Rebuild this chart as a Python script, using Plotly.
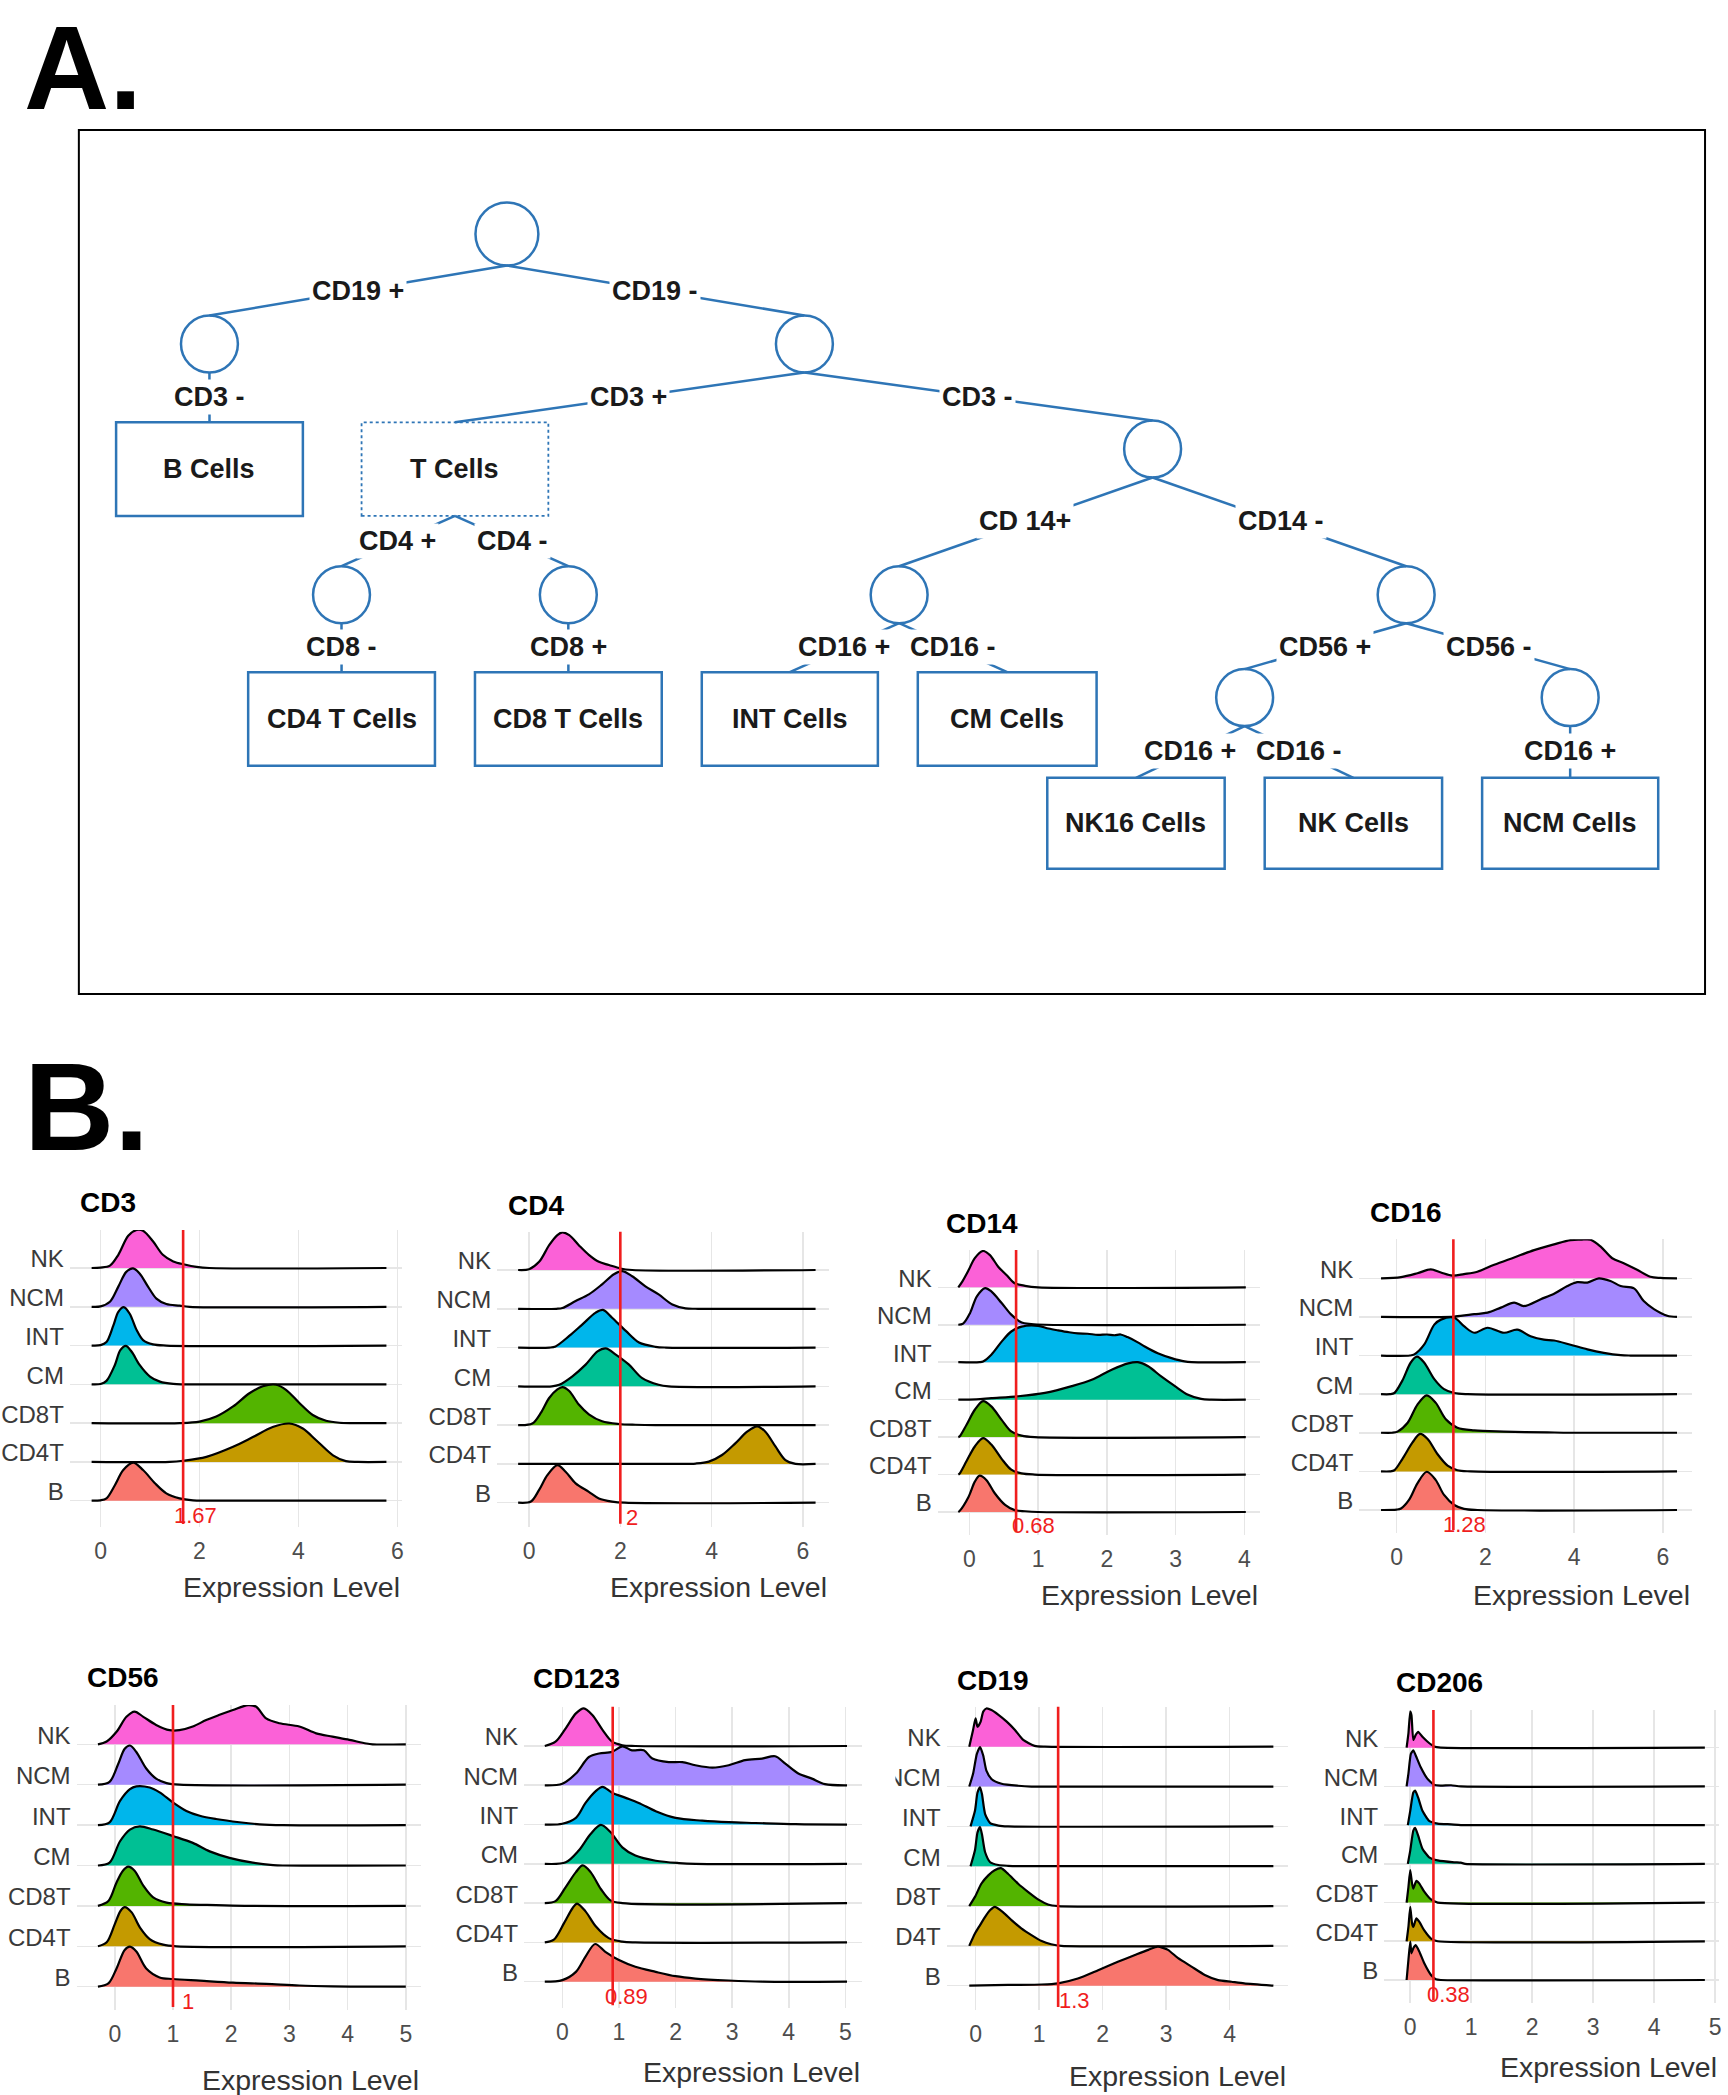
import plotly.graph_objects as go

W, H = 1728, 2095

# ======================= DATA =======================
# ---- Part A: gating tree ----
TREE_NODES = ["root", "cd19p", "cd19m", "cd3m", "cd4p", "cd4m", "cd14p", "cd14m", "cd56p", "cd56m"]
TREE_CELLS = ["B Cells", "T Cells", "CD4 T Cells", "CD8 T Cells", "INT Cells", "CM Cells",
              "NK16 Cells", "NK Cells", "NCM Cells"]
TREE_EDGES = [
    ("root", "cd19p", "CD19 +"), ("root", "cd19m", "CD19 -"),
    ("cd19p", "B Cells", "CD3 -"), ("cd19m", "T Cells", "CD3 +"), ("cd19m", "cd3m", "CD3 -"),
    ("T Cells", "cd4p", "CD4 +"), ("T Cells", "cd4m", "CD4 -"),
    ("cd4p", "CD4 T Cells", "CD8 -"), ("cd4m", "CD8 T Cells", "CD8 +"),
    ("cd3m", "cd14p", "CD 14+"), ("cd3m", "cd14m", "CD14 -"),
    ("cd14p", "INT Cells", "CD16 +"), ("cd14p", "CM Cells", "CD16 -"),
    ("cd14m", "cd56p", "CD56 +"), ("cd14m", "cd56m", "CD56 -"),
    ("cd56p", "NK16 Cells", "CD16 +"), ("cd56p", "NK Cells", "CD16 -"),
    ("cd56m", "NCM Cells", "CD16 +"),
]
DASHED_CELLS = ["T Cells"]

# ---- Part B: ridgelines ----
GROUPS = ["NK", "NCM", "INT", "CM", "CD8T", "CD4T", "B"]
GROUP_COLORS = ["#FB61D7", "#A58AFF", "#00B6EB", "#00C094", "#53B400", "#C49A00", "#F8766D"]
MARKERS = ["CD3", "CD4", "CD14", "CD16", "CD56", "CD123", "CD19", "CD206"]
THRESHOLDS = [1.67, 2, 0.68, 1.28, 1, 0.89, 1.3, 0.38]
THRESHOLD_TEXT = ["1.67", "2", "0.68", "1.28", "1", "0.89", "1.3", "0.38"]
X_TICKS = [[0, 2, 4, 6], [0, 2, 4, 6], [0, 1, 2, 3, 4], [0, 2, 4, 6],
           [0, 1, 2, 3, 4, 5], [0, 1, 2, 3, 4, 5], [0, 1, 2, 3, 4], [0, 1, 2, 3, 4, 5]]
X_TITLE = "Expression Level"

# (expression level, ridge height relative to row spacing)
CD3_RIDGES = {
    "NK": [(-0.18, 0), (0.0, 0.01), (0.19, 0.06), (0.36, 0.34), (0.56, 0.83), (0.73, 0.98), (0.86, 0.96), (1.06, 0.69), (1.26, 0.34), (1.47, 0.17), (1.7, 0.09), (1.94, 0.03), (2.2, 0), (5.78, 0)],
    "NCM": [(-0.18, 0), (0.0, 0.01), (0.19, 0.13), (0.36, 0.52), (0.52, 0.9), (0.66, 0.99), (0.79, 0.86), (0.96, 0.52), (1.13, 0.21), (1.33, 0.07), (1.6, 0.03), (1.8, 0), (5.78, 0)],
    "INT": [(-0.18, 0), (0.0, 0.01), (0.12, 0.09), (0.26, 0.52), (0.36, 0.87), (0.47, 0.99), (0.59, 0.82), (0.73, 0.4), (0.86, 0.14), (1.06, 0.03), (1.33, 0), (5.78, 0)],
    "CM": [(-0.18, 0), (0.0, 0.01), (0.12, 0.09), (0.29, 0.5), (0.4, 0.88), (0.51, 0.99), (0.63, 0.84), (0.79, 0.5), (1.0, 0.2), (1.2, 0.07), (1.47, 0.01), (1.7, 0), (5.78, 0)],
    "CD8T": [(-0.18, 0), (1.6, 0), (2.0, 0.04), (2.34, 0.17), (2.68, 0.43), (3.01, 0.77), (3.28, 0.95), (3.55, 0.99), (3.75, 0.86), (4.02, 0.52), (4.29, 0.21), (4.56, 0.06), (4.83, 0.01), (5.1, 0), (5.78, 0)],
    "CD4T": [(-0.18, 0), (1.4, 0), (1.67, 0.03), (2.14, 0.13), (2.68, 0.39), (3.08, 0.64), (3.48, 0.9), (3.82, 0.99), (4.09, 0.86), (4.36, 0.56), (4.7, 0.17), (4.96, 0.02), (5.2, 0), (5.78, 0)],
    "B": [(-0.18, 0), (0.0, 0.01), (0.12, 0.06), (0.29, 0.4), (0.46, 0.79), (0.66, 0.98), (0.86, 0.79), (1.1, 0.45), (1.33, 0.19), (1.6, 0.06), (1.87, 0.01), (2.1, 0), (5.78, 0)],
}
CD4_RIDGES = {
    "NK": [(-0.24, 0), (0.0, 0.02), (0.22, 0.21), (0.44, 0.64), (0.62, 0.9), (0.73, 0.97), (0.88, 0.9), (1.09, 0.64), (1.31, 0.39), (1.53, 0.21), (1.75, 0.13), (2.0, 0.04), (2.26, 0), (6.28, 0)],
    "NCM": [(-0.24, 0), (0.6, 0), (0.73, 0.02), (1.02, 0.2), (1.31, 0.37), (1.6, 0.63), (1.86, 0.89), (2.04, 0.97), (2.26, 0.84), (2.55, 0.58), (2.84, 0.37), (3.14, 0.11), (3.43, 0.01), (3.7, 0), (6.28, 0)],
    "INT": [(-0.24, 0), (0.45, 0), (0.58, 0.03), (0.88, 0.3), (1.17, 0.6), (1.46, 0.9), (1.62, 0.97), (1.82, 0.77), (2.12, 0.43), (2.41, 0.13), (2.77, 0.02), (3.0, 0), (6.28, 0)],
    "CM": [(-0.24, 0), (0.5, 0), (0.66, 0.04), (0.95, 0.26), (1.24, 0.56), (1.5, 0.9), (1.68, 0.98), (1.9, 0.82), (2.19, 0.56), (2.48, 0.21), (2.84, 0.04), (3.06, 0), (6.28, 0)],
    "CD8T": [(-0.24, 0), (0.07, 0.04), (0.26, 0.32), (0.44, 0.7), (0.62, 0.92), (0.73, 0.98), (0.88, 0.88), (1.09, 0.53), (1.31, 0.28), (1.6, 0.1), (1.97, 0.03), (2.33, 0.01), (2.77, 0), (6.28, 0)],
    "CD4T": [(-0.24, 0), (3.3, 0), (3.65, 0.01), (3.94, 0.06), (4.23, 0.23), (4.52, 0.53), (4.78, 0.83), (5.0, 0.97), (5.18, 0.83), (5.4, 0.45), (5.62, 0.1), (5.84, 0), (6.28, 0)],
    "B": [(-0.24, 0), (0.04, 0.03), (0.22, 0.33), (0.4, 0.71), (0.62, 0.97), (0.8, 0.8), (1.02, 0.5), (1.31, 0.28), (1.53, 0.11), (1.82, 0.03), (2.1, 0), (6.28, 0)],
}
CD14_RIDGES = {
    "NK": [(-0.16, 0), (-0.1, 0.16), (-0.01, 0.46), (0.08, 0.78), (0.2, 0.97), (0.3, 0.86), (0.42, 0.55), (0.54, 0.33), (0.66, 0.11), (0.81, 0.04), (1.0, 0), (4.02, 0)],
    "NCM": [(-0.16, 0), (-0.09, 0.03), (0.01, 0.31), (0.11, 0.76), (0.23, 0.98), (0.32, 0.89), (0.47, 0.58), (0.61, 0.27), (0.76, 0.06), (0.9, 0.02), (1.1, 0), (4.02, 0)],
    "INT": [(-0.16, 0), (0.15, 0), (0.2, 0.02), (0.32, 0.2), (0.47, 0.55), (0.61, 0.82), (0.76, 0.95), (1.0, 0.97), (1.15, 0.9), (1.29, 0.85), (1.45, 0.8), (1.58, 0.77), (1.72, 0.76), (1.87, 0.73), (2.0, 0.74), (2.11, 0.72), (2.2, 0.74), (2.3, 0.67), (2.45, 0.53), (2.55, 0.42), (2.74, 0.24), (2.94, 0.11), (3.13, 0.02), (3.23, 0), (4.02, 0)],
    "CM": [(-0.16, 0), (0.1, 0.01), (0.32, 0.04), (0.71, 0.09), (1.1, 0.18), (1.49, 0.36), (1.78, 0.53), (2.07, 0.8), (2.31, 0.97), (2.45, 1.0), (2.6, 0.89), (2.79, 0.62), (2.99, 0.36), (3.18, 0.13), (3.37, 0.02), (3.52, 0), (4.02, 0)],
    "CD8T": [(-0.16, 0), (-0.14, 0.02), (-0.04, 0.33), (0.08, 0.73), (0.2, 0.96), (0.32, 0.82), (0.47, 0.46), (0.61, 0.15), (0.76, 0.04), (0.95, 0), (4.02, 0)],
    "CD4T": [(-0.16, 0), (-0.14, 0.03), (-0.04, 0.36), (0.08, 0.75), (0.2, 0.97), (0.32, 0.8), (0.47, 0.42), (0.61, 0.13), (0.76, 0.03), (0.95, 0), (4.02, 0)],
    "B": [(-0.16, 0), (-0.14, 0.03), (-0.01, 0.41), (0.08, 0.81), (0.15, 0.97), (0.25, 0.85), (0.37, 0.5), (0.52, 0.19), (0.66, 0.05), (0.81, 0.02), (1.0, 0), (4.02, 0)],
}
CD16_RIDGES = {
    "NK": [(-0.35, 0), (0.1, 0.03), (0.47, 0.13), (0.77, 0.23), (1.0, 0.15), (1.26, 0.07), (1.52, 0.11), (1.82, 0.17), (2.2, 0.35), (2.65, 0.54), (3.1, 0.73), (3.55, 0.88), (3.92, 0.99), (4.15, 1.0), (4.37, 1.0), (4.6, 0.82), (4.86, 0.52), (5.12, 0.39), (5.42, 0.22), (5.72, 0.04), (5.95, 0.01), (6.32, 0)],
    "NCM": [(-0.35, 0), (1.3, 0.01), (1.75, 0.07), (2.05, 0.11), (2.35, 0.24), (2.65, 0.37), (2.87, 0.28), (3.25, 0.46), (3.55, 0.6), (3.85, 0.8), (4.07, 0.9), (4.3, 0.89), (4.56, 1.0), (4.82, 0.93), (5.05, 0.8), (5.35, 0.74), (5.57, 0.41), (5.8, 0.2), (6.1, 0.03), (6.32, 0)],
    "INT": [(-0.35, 0), (0.3, 0), (0.4, 0.03), (0.62, 0.28), (0.85, 0.8), (1.0, 0.93), (1.3, 0.98), (1.52, 0.76), (1.75, 0.59), (2.05, 0.72), (2.42, 0.59), (2.72, 0.67), (3.02, 0.5), (3.32, 0.41), (3.55, 0.39), (3.92, 0.28), (4.3, 0.16), (4.67, 0.07), (5.05, 0.01), (5.27, 0), (6.32, 0)],
    "CM": [(-0.35, 0), (-0.15, 0), (-0.05, 0.03), (0.13, 0.35), (0.32, 0.82), (0.46, 0.97), (0.62, 0.82), (0.85, 0.39), (1.07, 0.13), (1.3, 0.03), (1.6, 0), (6.32, 0)],
    "CD8T": [(-0.35, 0), (-0.1, 0), (0.02, 0.03), (0.25, 0.26), (0.47, 0.73), (0.68, 0.97), (0.88, 0.78), (1.11, 0.35), (1.37, 0.13), (1.75, 0.06), (2.42, 0.03), (3.4, 0.01), (3.92, 0), (6.32, 0)],
    "CD4T": [(-0.35, 0), (-0.15, 0), (-0.05, 0.03), (0.13, 0.32), (0.36, 0.75), (0.53, 0.97), (0.7, 0.84), (0.92, 0.45), (1.15, 0.15), (1.37, 0.03), (1.67, 0), (6.32, 0)],
    "B": [(-0.35, 0), (0.0, 0.01), (0.1, 0.04), (0.28, 0.26), (0.47, 0.69), (0.68, 0.99), (0.88, 0.78), (1.07, 0.39), (1.3, 0.13), (1.52, 0.03), (1.82, 0), (6.32, 0)],
}
CD56_RIDGES = {
    "NK": [(-0.29, 0), (-0.14, 0.07), (0.03, 0.31), (0.2, 0.68), (0.34, 0.81), (0.49, 0.68), (0.71, 0.48), (0.94, 0.35), (1.11, 0.35), (1.34, 0.44), (1.57, 0.6), (1.8, 0.73), (2.03, 0.85), (2.29, 0.97), (2.43, 0.93), (2.6, 0.64), (2.83, 0.52), (3.17, 0.44), (3.46, 0.27), (3.74, 0.19), (4.03, 0.11), (4.32, 0.02), (4.43, 0), (5.0, 0)],
    "NCM": [(-0.29, 0), (-0.09, 0.07), (0.06, 0.52), (0.17, 0.89), (0.26, 0.97), (0.37, 0.81), (0.54, 0.4), (0.71, 0.15), (0.89, 0.04), (1.11, 0), (5.0, 0)],
    "INT": [(-0.29, 0), (-0.09, 0.07), (0.09, 0.6), (0.26, 0.89), (0.37, 0.96), (0.6, 0.93), (0.77, 0.81), (1.0, 0.56), (1.23, 0.35), (1.46, 0.23), (1.74, 0.15), (2.14, 0.07), (2.49, 0.02), (2.89, 0), (5.0, 0)],
    "CM": [(-0.29, 0), (-0.09, 0.07), (0.09, 0.6), (0.26, 0.89), (0.43, 0.97), (0.66, 0.89), (1.0, 0.73), (1.34, 0.56), (1.63, 0.35), (1.97, 0.19), (2.37, 0.07), (2.72, 0.01), (2.89, 0), (5.0, 0)],
    "CD8T": [(-0.29, 0), (-0.11, 0.12), (0.03, 0.58), (0.14, 0.87), (0.23, 0.97), (0.34, 0.87), (0.49, 0.5), (0.66, 0.21), (0.89, 0.08), (1.23, 0.04), (1.74, 0.02), (2.32, 0), (5.0, 0)],
    "CD4T": [(-0.29, 0), (-0.14, 0.1), (0.0, 0.55), (0.1, 0.88), (0.17, 0.97), (0.29, 0.84), (0.43, 0.47), (0.6, 0.18), (0.83, 0.04), (1.06, 0), (5.0, 0)],
    "B": [(-0.29, 0), (-0.11, 0.08), (0.03, 0.45), (0.17, 0.91), (0.26, 0.99), (0.37, 0.87), (0.54, 0.45), (0.77, 0.23), (1.0, 0.19), (1.46, 0.15), (2.03, 0.1), (2.6, 0.07), (3.17, 0.03), (3.74, 0.01), (4.3, 0), (5.0, 0)],
}
CD123_RIDGES = {
    "NK": [(-0.31, 0), (-0.12, 0.11), (0.06, 0.45), (0.24, 0.83), (0.38, 0.96), (0.53, 0.79), (0.71, 0.41), (0.88, 0.11), (1.06, 0.02), (1.29, 0), (5.03, 0)],
    "NCM": [(-0.31, 0), (0.0, 0.04), (0.24, 0.3), (0.47, 0.72), (0.65, 0.81), (0.88, 0.85), (1.06, 0.99), (1.23, 0.89), (1.44, 0.89), (1.59, 0.68), (1.88, 0.59), (2.12, 0.59), (2.35, 0.51), (2.65, 0.45), (2.94, 0.51), (3.23, 0.64), (3.53, 0.68), (3.76, 0.74), (3.94, 0.55), (4.17, 0.3), (4.41, 0.17), (4.64, 0.03), (5.03, 0)],
    "INT": [(-0.31, 0), (0.0, 0.02), (0.24, 0.17), (0.41, 0.55), (0.59, 0.85), (0.71, 0.96), (0.88, 0.81), (1.12, 0.68), (1.35, 0.55), (1.65, 0.34), (2.0, 0.17), (2.47, 0.1), (2.94, 0.06), (3.41, 0.04), (4.12, 0.01), (5.03, 0)],
    "CM": [(-0.31, 0), (0.06, 0.04), (0.29, 0.34), (0.5, 0.76), (0.68, 0.99), (0.85, 0.81), (1.06, 0.42), (1.29, 0.21), (1.65, 0.08), (2.06, 0.02), (2.35, 0), (5.03, 0)],
    "CD8T": [(-0.31, 0), (-0.12, 0.05), (0.06, 0.41), (0.24, 0.79), (0.36, 0.96), (0.5, 0.79), (0.68, 0.36), (0.85, 0.07), (1.06, 0), (5.03, 0)],
    "CD4T": [(-0.31, 0), (-0.15, 0.07), (0.03, 0.49), (0.18, 0.87), (0.26, 0.99), (0.41, 0.79), (0.59, 0.41), (0.82, 0.11), (1.06, 0.02), (1.29, 0), (5.03, 0)],
    "B": [(-0.31, 0), (0.0, 0.04), (0.24, 0.25), (0.41, 0.64), (0.58, 0.96), (0.76, 0.76), (1.0, 0.55), (1.29, 0.38), (1.65, 0.25), (2.0, 0.14), (2.35, 0.08), (2.94, 0.03), (3.53, 0), (5.03, 0)],
}
CD19_RIDGES = {
    "NK": [(-0.1, 0), (-0.04, 0.42), (0.0, 0.71), (0.03, 0.5), (0.08, 0.63), (0.12, 0.88), (0.17, 0.96), (0.25, 0.92), (0.36, 0.8), (0.49, 0.63), (0.62, 0.42), (0.75, 0.17), (0.93, 0.02), (1.09, 0), (4.69, 0)],
    "NCM": [(-0.1, 0), (-0.04, 0.32), (0.02, 0.82), (0.07, 0.99), (0.12, 0.78), (0.17, 0.4), (0.25, 0.19), (0.41, 0.07), (0.67, 0.02), (0.88, 0), (4.69, 0)],
    "INT": [(-0.08, 0), (-0.01, 0.39), (0.03, 0.85), (0.07, 0.98), (0.1, 0.81), (0.15, 0.31), (0.23, 0.08), (0.36, 0.02), (0.51, 0), (4.69, 0)],
    "CM": [(-0.08, 0), (-0.01, 0.4), (0.03, 0.85), (0.07, 0.98), (0.1, 0.8), (0.15, 0.35), (0.23, 0.1), (0.36, 0.03), (0.51, 0.01), (0.7, 0), (4.69, 0)],
    "CD8T": [(-0.1, 0), (-0.01, 0.23), (0.09, 0.56), (0.2, 0.77), (0.3, 0.9), (0.4, 0.95), (0.51, 0.81), (0.67, 0.56), (0.83, 0.35), (0.99, 0.16), (1.14, 0.04), (1.3, 0), (4.69, 0)],
    "CD4T": [(-0.1, 0), (-0.01, 0.31), (0.07, 0.52), (0.15, 0.73), (0.23, 0.9), (0.3, 0.98), (0.43, 0.85), (0.57, 0.64), (0.72, 0.44), (0.88, 0.27), (1.04, 0.12), (1.19, 0.04), (1.35, 0), (4.69, 0)],
    "B": [(-0.1, 0), (0.51, 0.02), (1.04, 0.03), (1.3, 0.06), (1.61, 0.18), (1.93, 0.39), (2.24, 0.6), (2.51, 0.77), (2.72, 0.9), (2.87, 0.98), (3.03, 0.9), (3.19, 0.69), (3.4, 0.48), (3.61, 0.27), (3.82, 0.14), (4.03, 0.1), (4.23, 0.06), (4.69, 0)],
}
CD206_RIDGES = {
    "NK": [(-0.06, 0), (-0.03, 0.37), (0.0, 0.93), (0.02, 0.84), (0.05, 0.2), (0.09, 0.33), (0.13, 0.41), (0.2, 0.28), (0.28, 0.16), (0.39, 0.03), (0.5, 0), (4.83, 0)],
    "NCM": [(-0.06, 0), (-0.03, 0.33), (0.01, 0.84), (0.05, 0.93), (0.09, 0.8), (0.17, 0.5), (0.28, 0.2), (0.39, 0.04), (0.5, 0.02), (0.67, 0.03), (0.83, 0), (4.83, 0)],
    "INT": [(-0.04, 0), (0.0, 0.37), (0.05, 0.84), (0.08, 0.89), (0.13, 0.71), (0.2, 0.37), (0.31, 0.11), (0.45, 0.04), (0.67, 0.02), (0.83, 0), (4.83, 0)],
    "CM": [(-0.04, 0), (0.0, 0.34), (0.05, 0.86), (0.08, 0.93), (0.13, 0.73), (0.2, 0.39), (0.31, 0.17), (0.45, 0.09), (0.72, 0.04), (0.83, 0.03), (0.9, 0), (4.83, 0)],
    "CD8T": [(-0.06, 0), (-0.03, 0.4), (0.0, 0.84), (0.03, 0.49), (0.05, 0.36), (0.1, 0.56), (0.15, 0.49), (0.23, 0.28), (0.34, 0.08), (0.45, 0), (4.83, 0)],
    "CD4T": [(-0.06, 0), (-0.03, 0.37), (0.0, 0.89), (0.03, 0.46), (0.05, 0.37), (0.1, 0.59), (0.15, 0.5), (0.23, 0.28), (0.34, 0.07), (0.45, 0), (4.83, 0)],
    "B": [(-0.06, 0), (-0.03, 0.52), (0.0, 0.99), (0.02, 0.69), (0.05, 0.82), (0.09, 0.9), (0.15, 0.73), (0.23, 0.43), (0.34, 0.13), (0.42, 0.02), (0.5, 0), (4.83, 0)],
}
ALL_RIDGES = [CD3_RIDGES, CD4_RIDGES, CD14_RIDGES, CD16_RIDGES,
              CD56_RIDGES, CD123_RIDGES, CD19_RIDGES, CD206_RIDGES]

# ======================= LAYOUT (pixel geometry, styles) =======================
TREE_BLUE = "#2E75B6"
TREE_FONT = "Liberation Sans, Arial, sans-serif"
PLOT_FONT = "Liberation Sans, Arial, Helvetica, sans-serif"

NODE_GEOM = {  # cx, cy, r (px)
    "root": (507.8, 234.0, 31.5), "cd19p": (209.8, 344.0, 28.5), "cd19m": (805.8, 344.0, 28.5),
    "cd3m": (1154.6, 449.0, 28.5), "cd4p": (342.1, 594.7, 28.5), "cd4m": (569.3, 594.7, 28.5),
    "cd14p": (900.7, 594.7, 28.5), "cd14m": (1408.6, 594.7, 28.5),
    "cd56p": (1246.8, 697.6, 28.5), "cd56m": (1572.9, 697.6, 28.5),
}
CELL_GEOM = {  # x0, y0, x1, y1 (px)
    "B Cells": (116.3, 422.3, 303.4, 515.9), "T Cells": (362.2, 422.3, 549.3, 515.9),
    "CD4 T Cells": (248.6, 672.2, 435.7, 765.8), "CD8 T Cells": (475.8, 672.2, 662.9, 765.8),
    "INT Cells": (703.0, 672.2, 879.4, 765.8), "CM Cells": (919.4, 672.2, 1098.5, 765.8),
    "NK16 Cells": (1049.1, 777.8, 1226.8, 868.7), "NK Cells": (1266.9, 777.8, 1444.6, 868.7),
    "NCM Cells": (1484.7, 777.8, 1661.1, 868.7),
}
GATE_LABEL_POS = [(358.2, 291.3), (656.2, 291.3), (209.8, 396.9), (629.4, 396.9), (979.6, 396.9),
                  (398.2, 541.2), (513.2, 541.2), (342.1, 646.8), (569.3, 646.8),
                  (1026.4, 521.2), (1282.9, 521.2), (845.9, 646.8), (954.2, 646.8),
                  (1327.0, 646.8), (1491.4, 646.8), (1192.1, 751.1), (1301.6, 751.1), (1572.9, 751.1)]

PANEL_GEOM = [
    dict(x0=100.7, ppu=49.55, left=70, right=403, nk=1268, b=1500.7, top=1230, bottom=1527, tx=78, ty=1202, xty=1587),
    dict(x0=530, ppu=45.7, left=498, right=830, nk=1270, b=1502.7, top=1231.7, bottom=1526.7, tx=506.7, ty=1205, xty=1587),
    dict(x0=971, ppu=68.9, left=939.3, right=1261.7, nk=1287.3, b=1512, top=1250, bottom=1535, tx=946, ty=1223, xty=1595),
    dict(x0=1399, ppu=44.45, left=1361.7, right=1695, nk=1278.3, b=1510, top=1239.3, bottom=1533, tx=1370, ty=1212, xty=1595),
    dict(x0=115, ppu=58.3, left=76.7, right=421.7, nk=1744.3, b=1986.7, top=1705, bottom=2010, tx=85, ty=1677, xty=2080),
    dict(x0=563.3, ppu=56.7, left=525, right=863.3, nk=1746, b=1981.7, top=1706.7, bottom=2008.3, tx=531.7, ty=1678, xty=2072),
    dict(x0=977.3, ppu=63.6, left=948.3, right=1290, nk=1746.7, b=1985.7, top=1706.7, bottom=2010, tx=956.7, ty=1680, xty=2076),
    dict(x0=1412.7, ppu=61.1, left=1386.7, right=1722, nk=1747.7, b=1980, top=1710, bottom=2003, tx=1396, ty=1682, xty=2067),
]
SMOOTHING = [0.9, 0.9, 0.9, 0.9, 0.9, 0.9, 0.6, 0.5]
LABEL_LIFT_PX = 9  # group labels sit just above their baseline


def px(x):
    return x / W


def py(y):
    return 1 - y / H


fig = go.Figure()
shapes = []
annotations = []

# ---------------- Part A ----------------
annotations.append(dict(text="<b>A.</b>", x=px(22), y=1, xref="paper", yref="paper",
                        xanchor="left", yanchor="top", showarrow=False,
                        font=dict(size=118, color="black", family=PLOT_FONT)))
annotations.append(dict(text="<b>B.</b>", x=px(22), y=py(1106), xref="paper", yref="paper",
                        xanchor="left", yanchor="middle", showarrow=False,
                        font=dict(size=125, color="black", family=PLOT_FONT)))
shapes.append(dict(type="rect", xref="paper", yref="paper", x0=px(79), x1=px(1708),
                   y0=py(994), y1=py(130), line=dict(color="black", width=2)))


def bottom_point(name):
    if name in NODE_GEOM:
        cx, cy, r = NODE_GEOM[name]
        return cx, cy + r
    x0, y0, x1, y1 = CELL_GEOM[name]
    return (x0 + x1) / 2, y1


def top_point(name):
    if name in NODE_GEOM:
        cx, cy, r = NODE_GEOM[name]
        return cx, cy - r
    x0, y0, x1, y1 = CELL_GEOM[name]
    return (x0 + x1) / 2, y0


for (parent, child, gate), (lx, ly) in zip(TREE_EDGES, GATE_LABEL_POS):
    ax, ay = bottom_point(parent)
    bx, by = top_point(child)
    shapes.append(dict(type="line", xref="paper", yref="paper", x0=px(ax), y0=py(ay),
                       x1=px(bx), y1=py(by), line=dict(color=TREE_BLUE, width=2.5)))
    annotations.append(dict(text="<b>%s</b>" % gate, x=px(lx), y=py(ly), xref="paper", yref="paper",
                            xanchor="center", yanchor="middle", showarrow=False,
                            bgcolor="white", borderpad=2,
                            font=dict(size=27, color="#1a1a1a", family=TREE_FONT)))

for name in TREE_NODES:
    cx, cy, r = NODE_GEOM[name]
    shapes.append(dict(type="circle", xref="paper", yref="paper", x0=px(cx - r), x1=px(cx + r),
                       y0=py(cy + r), y1=py(cy - r), line=dict(color=TREE_BLUE, width=2.5)))

for name in TREE_CELLS:
    x0, y0, x1, y1 = CELL_GEOM[name]
    dashed = name in DASHED_CELLS
    shapes.append(dict(type="rect", xref="paper", yref="paper", x0=px(x0), x1=px(x1),
                       y0=py(y1), y1=py(y0),
                       line=dict(color=TREE_BLUE, width=1.8 if dashed else 2.5,
                                 dash="dot" if dashed else "solid")))
    annotations.append(dict(text="<b>%s</b>" % name, x=px((x0 + x1) / 2), y=py((y0 + y1) / 2),
                            xref="paper", yref="paper", xanchor="center", yanchor="middle",
                            showarrow=False, font=dict(size=27, color="#1a1a1a", family=TREE_FONT)))

# ---------------- Part B ----------------
GRID = "#E6E6E6"
n_groups = len(GROUPS)
for i, marker in enumerate(MARKERS):
    g = PANEL_GEOM[i]
    n = i + 1
    xr_name = "x" if n == 1 else "x%d" % n
    yr_name = "y" if n == 1 else "y%d" % n
    ridges = ALL_RIDGES[i]
    for k, grp in enumerate(GROUPS):
        base = n_groups - k
        pts = ridges[grp]
        xs = [p[0] for p in pts]
        ys = [base + p[1] for p in pts]
        fig.add_trace(go.Scatter(x=[xs[0], xs[-1]], y=[base, base], mode="lines",
                                 line=dict(width=0, color="rgba(0,0,0,0)"), hoverinfo="skip",
                                 showlegend=False, xaxis=xr_name, yaxis=yr_name))
        fig.add_trace(go.Scatter(x=xs, y=ys, mode="lines", fill="tonexty",
                                 fillcolor=GROUP_COLORS[k],
                                 line=dict(color="black", width=2.2, shape="spline",
                                           smoothing=SMOOTHING[i]),
                                 hoverinfo="skip", showlegend=False,
                                 xaxis=xr_name, yaxis=yr_name))

    ppr = (g["b"] - g["nk"]) / (n_groups - 1)
    yrange = [1 - (g["bottom"] - g["b"]) / ppr, n_groups + (g["nk"] - g["top"]) / ppr]
    xrange = [(g["left"] - g["x0"]) / g["ppu"], (g["right"] - g["x0"]) / g["ppu"]]
    lift = LABEL_LIFT_PX / ppr
    baselines = [n_groups - k for k in range(n_groups)]
    xa = "xaxis" if n == 1 else "xaxis%d" % n
    ya = "yaxis" if n == 1 else "yaxis%d" % n
    fig.layout[xa] = dict(domain=[g["left"] / W, g["right"] / W], range=xrange, anchor=yr_name,
                          tickmode="array", tickvals=X_TICKS[i],
                          ticktext=[str(t) for t in X_TICKS[i]],
                          showgrid=True, gridcolor=GRID, gridwidth=1.6, zeroline=False,
                          showline=False, ticks="", ticklabelstandoff=8,
                          tickfont=dict(size=23, color="#4D4D4D", family=PLOT_FONT),
                          fixedrange=True)
    fig.layout[ya] = dict(domain=[1 - g["bottom"] / H, 1 - g["top"] / H], range=yrange,
                          anchor=xr_name, tickmode="array",
                          tickvals=[b + lift for b in baselines], ticktext=GROUPS,
                          ticklabelstandoff=5, showgrid=False, zeroline=False,
                          showline=False, ticks="",
                          minor=dict(tickmode="array", tickvals=baselines, showgrid=True,
                                     gridcolor=GRID, gridwidth=1.6, ticks=""),
                          tickfont=dict(size=24, color="#3A3A3A", family=PLOT_FONT),
                          fixedrange=True)

    # threshold line and label
    shapes.append(dict(type="line", xref=xr_name, yref="%s domain" % yr_name,
                       x0=THRESHOLDS[i], x1=THRESHOLDS[i], y0=0.01, y1=1, layer="above",
                       line=dict(color="#F01E1E", width=2.6)))
    annotations.append(dict(text=THRESHOLD_TEXT[i], x=THRESHOLDS[i] + 0.25, y=0.63,
                            xref=xr_name, yref=yr_name, xanchor="center", yanchor="middle",
                            showarrow=False, font=dict(size=22, color="#F01E1E", family=PLOT_FONT)))
    # panel title
    annotations.append(dict(text="<b>%s</b>" % marker, x=px(g["tx"]), y=py(g["ty"]),
                            xref="paper", yref="paper", xanchor="left", yanchor="middle",
                            showarrow=False, font=dict(size=28, color="black", family=PLOT_FONT)))
    # x-axis title (right aligned)
    annotations.append(dict(text=X_TITLE, x=1, y=py(g["xty"]), xref="%s domain" % xr_name,
                            yref="paper", xanchor="right", yanchor="middle", showarrow=False,
                            font=dict(size=28.5, color="#333333", family=PLOT_FONT)))

# crop of the CD19 panel's left labels (as in the reference image)
shapes.append(dict(type="rect", xref="paper", yref="paper", x0=px(866), x1=px(897),
                   y0=py(2000), y1=py(1725), fillcolor="white", line=dict(width=0), layer="above"))

fig.update_layout(width=W, height=H, autosize=False, margin=dict(l=0, r=0, t=0, b=0, pad=0),
                  paper_bgcolor="white", plot_bgcolor="white", showlegend=False,
                  shapes=shapes, annotations=annotations, font=dict(family=PLOT_FONT))

fig.write_html("out.html", config={"displayModeBar": False, "staticPlot": True},
               post_script="document.body.style.margin='0px';document.body.style.overflow='hidden';")
